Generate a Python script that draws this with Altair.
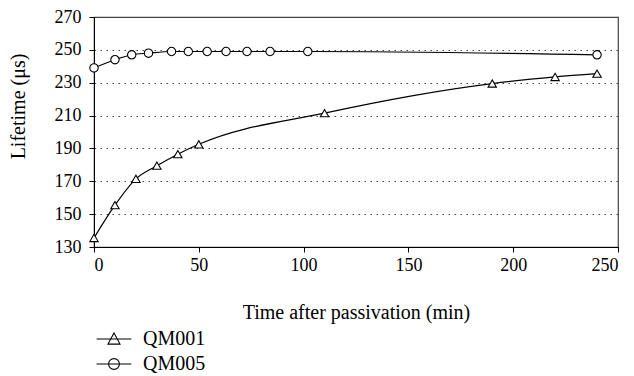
import altair as alt
import pandas as pd

# Data
series_names = ["QM001", "QM005"]

qm001_time = [0, 10, 20, 30, 40, 50, 110, 190, 220, 240]
qm001_life = [135.5, 155.5, 171.5, 179.5, 186.5, 192.5, 211.5, 229.5, 233.5, 235.5]

qm005_time = [0, 10, 18, 26, 37, 45, 54, 63, 73, 84, 102, 240]
qm005_life = [239, 244, 247, 248, 249, 249, 249, 249, 249, 249, 249, 247]

x_ticks = [0, 50, 100, 150, 200, 250]
y_ticks = [130, 150, 170, 190, 210, 230, 250, 270]

rows = []
for t, v in zip(qm001_time, qm001_life):
    rows.append({"series": "QM001", "time": t, "life": v})
for t, v in zip(qm005_time, qm005_life):
    rows.append({"series": "QM005", "time": t, "life": v})
df = pd.DataFrame(rows)

FONT = "Liberation Serif, Times New Roman, serif"

x_enc = alt.X(
    "time:Q",
    scale=alt.Scale(domain=[0, 250], nice=False, zero=False),
    axis=alt.Axis(
        values=x_ticks, title="Time after passivation (min)", grid=False,
        tickSize=5, labelPadding=4, titlePadding=28, labelOverlap=False,
        domainColor="black", tickColor="black",
    ),
)
y_enc = alt.Y(
    "life:Q",
    scale=alt.Scale(domain=[130, 270], nice=False, zero=False),
    axis=alt.Axis(
        values=y_ticks, title="Lifetime (μs)", grid=True,
        gridDash=[1.5, 4.5], gridColor="#444", gridWidth=1,
        tickSize=5, labelPadding=8, labelOverlap=False,
        titleX=-76, titleY=89, titleBaseline="middle", titleAlign="center",
        titleAngle=270,
        domainColor="black", tickColor="black",
    ),
)

lines = alt.Chart(df).mark_line(
    interpolate="monotone", color="black", strokeWidth=1.2
).encode(x=x_enc, y=y_enc, detail="series:N")

points = alt.Chart(df).mark_point(
    filled=True, fill="white", stroke="black", strokeWidth=1.1, size=70, opacity=1
).encode(
    x=x_enc, y=y_enc,
    shape=alt.Shape(
        "series:N",
        scale=alt.Scale(domain=series_names, range=["triangle-up", "circle"]),
        legend=None,
    ),
)

# legend glyphs: a line with the marker in its middle (unit = half of 12px)
tri_path = "M-2.9,0H2.9M0,-1L1,0.85L-1,0.85Z"
circ_path = "M-2.9,0H2.9M-0.9,0A0.9,0.9 0 1,0 0.9,0A0.9,0.9 0 1,0 -0.9,0Z"

legend_layer = alt.Chart(df).mark_point(opacity=0).encode(
    x=x_enc, y=y_enc,
    shape=alt.Shape(
        "series:N",
        scale=alt.Scale(domain=series_names, range=[tri_path, circ_path]),
        legend=alt.Legend(
            title=None, orient="none", legendX=10, legendY=312,
            symbolSize=144, symbolOpacity=1, symbolStrokeColor="black",
            symbolFillColor="white", symbolStrokeWidth=1.1,
            labelFont=FONT, labelFontSize=20, labelColor="black",
            labelOffset=19, padding=0, rowPadding=5,
        ),
    ),
)

chart = alt.layer(lines, points, legend_layer).resolve_scale(
    shape="independent"
).properties(
    width=524, height=230,
    padding={"left": 86, "top": 9, "right": 8, "bottom": 129},
    autosize=alt.AutoSizeParams(type="none"),
).configure_view(
    stroke="#444", strokeWidth=1.2
).configure_axis(
    labelFont=FONT, titleFont=FONT, labelFontSize=18, titleFontSize=20,
    labelColor="black", titleColor="black", titleFontWeight="normal",
)

chart.save("out.html", embed_options={"renderer": "svg", "actions": False})
